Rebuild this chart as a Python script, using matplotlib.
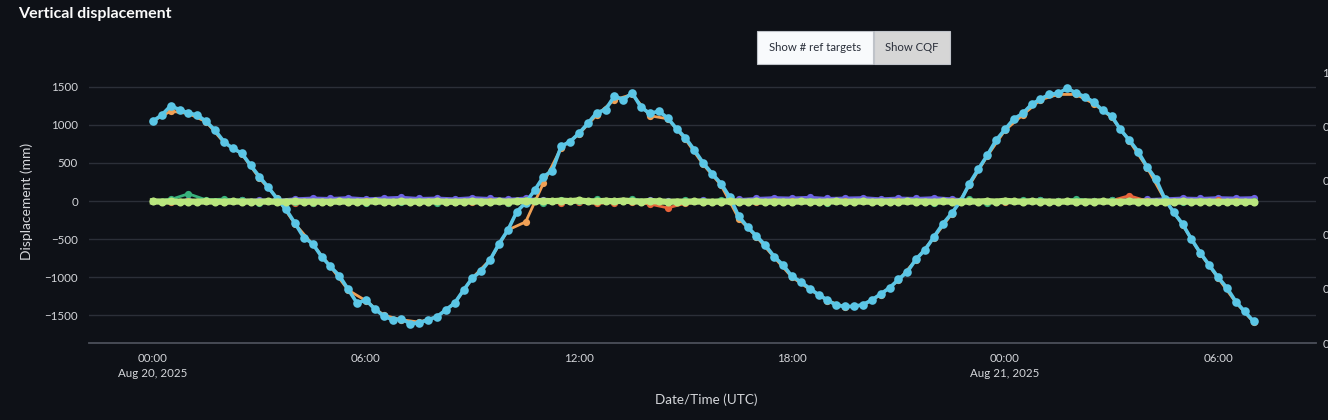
import numpy as np
import pandas as pd
import matplotlib
matplotlib.use('Agg')
import matplotlib.pyplot as plt
from matplotlib.patches import Rectangle

plt.rcParams['font.family'] = ['Lato', 'DejaVu Sans']

BG = '#0e1117'
TXT = '#d4d6da'

# sampling grids (15 min for the main target and the top series, 30 min for the rest)
start = pd.Timestamp('2025-08-20 00:00')
t_quarter = pd.date_range(start, periods=125, freq='15min')
t_half = pd.date_range(start, periods=63, freq='30min')

# displacement of the moving target, mm (15 min)
cyan_vals = [
    1050, 1130, 1250, 1200, 1155, 1130, 1045, 930, 780, 690,
    630, 470, 320, 180, 30, -110, -290, -480, -560, -730,
    -860, -980, -1160, -1340, -1300, -1420, -1510, -1560, -1550, -1610,
    -1600, -1560, -1520, -1430, -1340, -1170, -1010, -920, -770, -560,
    -380, -140, -20, 140, 320, 400, 720, 780, 890, 1020,
    1160, 1200, 1380, 1330, 1420, 1230, 1150, 1180, 1090, 950,
    830, 670, 500, 360, 230, 50, -200, -340, -460, -580,
    -730, -840, -990, -1060, -1150, -1230, -1300, -1370, -1385, -1385,
    -1360, -1300, -1220, -1140, -1030, -930, -760, -640, -470, -300,
    -160, 0, 230, 420, 600, 800, 940, 1080, 1150, 1270,
    1340, 1400, 1415, 1480, 1420, 1370, 1300, 1190, 1120, 940,
    800, 650, 450, 290, 30, -150, -300, -500, -680, -840,
    -1000, -1140, -1320, -1450, -1580,
]

# second solution of the same target, mostly hidden under cyan (30 min)
orange_vals = [
    1050, 1180, 1150, 1040, 770, 620, 300, 40, -300, -570,
    -860, -1170, -1310, -1500, -1560, -1590, -1520, -1340, -1010, -770,
    -380, -274, 235, 700, 880, 1130, 1330, 1400, 1120, 1080,
    810, 480, 210, -230, -470, -740, -1000, -1160, -1310, -1390,
    -1370, -1230, -1040, -770, -480, -170, 210, 590, 930, 1130,
    1330, 1400, 1400, 1280, 1100, 790, 440, 20, -310, -690,
    -1010, -1330, -1590,
]

# reference targets near zero (30 min)
purple_vals = [
    5, 0, 10, 5, 0, 8, 15, 10,
    30, 40, 35, 45, 30, 40, 50, 35, 40, 30, 45, 35,
    25, 40, 10, 0, 5, 10, -5, 0, 10, 5, 0, 10, 5, 20,
    35, 45, 40, 50, 35, 40, 45, 30, 40, 35, 45, 30,
    10, 5, 0, -5, 10, 0, 5, -5, 10, 15, 20, 30,
    40, 35, 45, 40, 45,
]
red_vals = [
    0, -10, 5, -5, -10, 0, -15, -5,
    -20, -30, -10, -15, -5, -10, 0, -10, -5, -15, -10, 0,
    -20, 10, -15, -25, -10, -30, -20, -15, -40, -90, -30, -15, -10, -5,
    -10, -5, 0, -10, -15, -5, 0, -10, -5, 5, -10, 0,
    -5, 0, -10, 5, 0, -5, 10, 0, 5, 70, 0, -10,
    -5, 0, 10, -5, 0,
]
green_vals = [
    5, 20, 95, 15, 25, 10, -20, -15,
    -10, -20, -15, -5, -25, -10, -15, -5, -20, -10, -5, -15,
    -25, 15, -20, 10, 0, 20, 5, 25, 0, -10, 10, -5, 15, 0,
    -5, -15, -10, -5, -20, -10, -5, -15, -10, -5, -20, -10,
    20, -20, 5, 10, 15, 0, 25, 5, 10, -5, -10, 5,
    -10, -5, -15, -10, -5,
]
# top series (15 min)
lime_vals = [
    -5, -8, -6, -10, -7, -9, -5, -8, -10, -6,
    -8, -7, -9, -6, -10, -8, -5, -9, -7, -8,
    -10, -6, -8, -9, -7, -5, -8, -10, -6, -9,
    -8, -7, -6, -9, -10, -8, -5, -7, -9, -6,
    -8, -4, 0, -5, 2, -3, 5, -2, 8, -4,
    -6, 3, -5, 6, -3, -8, 0, -6, -10, -7,
    -9, -6, -8, -10, -7, -5, -9, -8, -6, -10,
    -7, -8, -9, -6, -8, -10, -7, -5, -9, -8,
    -6, -10, -7, -8, -9, -6, -8, -7, -10, -5,
    -8, -9, -6, -7, -2, -8, 3, -6, -9, -4,
    -7, -8, -10, -6, -9, -7, -8, -5, -9, -10,
    -6, -8, -7, -9, -10, -8, -6, -9, -7, -8,
    -9, -10, -8, -9, -10,
]

right_ticks = [0, 0.2, 0.4, 0.6, 0.8, 1]
x_ticks = pd.date_range(start, periods=6, freq='6h')

fig = plt.figure(figsize=(13.28, 4.2), dpi=100, facecolor=BG)
ax = fig.add_axes([89 / 1328, 1 - 343 / 420, 1227 / 1328, 281 / 420])
ax.set_facecolor(BG)

# secondary axis, its labels run off the right edge like in the dashboard
ax2 = ax.twinx()
ax2.set_ylim(0, 1.04)
ax2.set_yticks(right_ticks)
ax2.set_yticklabels([f'{v:g}' for v in right_ticks])
ax2.tick_params(axis='y', length=0, pad=4.5, labelsize=8.3, colors=TXT)
for s in ax2.spines.values():
    s.set_visible(False)

# noise-level series first, then the big tidal one, lime on top
style_small = dict(marker='o', ms=5.2, lw=2, mew=0)
ax.plot(t_half, purple_vals, color='#6c62e2', zorder=3, **style_small)
ax.plot(t_half, red_vals, color='#e8643a', zorder=3, **style_small)
ax.plot(t_half, green_vals, color='#38b27c', zorder=3, **style_small)
ax.plot(t_half, orange_vals, color='#f0a055', zorder=4, **style_small)
ax.plot(t_quarter, cyan_vals, color='#5bc6e6', marker='o', ms=6.2, lw=2.6, mew=0, zorder=5)
ax.plot(t_quarter, lime_vals, color='#b9e67e', marker='o', ms=5.8, lw=4.5, mew=0, zorder=6)

ax.set_ylim(-1865, 1826)
ax.set_xlim(start - pd.Timedelta(hours=1.8), start + pd.Timedelta(hours=32.76))
ax.set_yticks([-1500, -1000, -500, 0, 500, 1000, 1500])
ax.yaxis.grid(True, color='#2b2f38', lw=1)
ax.set_axisbelow(True)

ax.set_xticks(x_ticks)
ax.set_xticklabels([
    d.strftime('%H:%M') + (d.strftime('\n%b %d, %Y').replace(' 0', ' ') if d.hour == 0 else '')
    for d in x_ticks
], linespacing=1.5)
ax.tick_params(axis='x', length=0, pad=7, labelsize=8.3, colors=TXT)
ax.tick_params(axis='y', length=0, pad=8, labelsize=8.3, colors=TXT)

for name, s in ax.spines.items():
    if name == 'bottom':
        s.set_color('#4c505a')
        s.set_linewidth(1.3)
    else:
        s.set_visible(False)

fig.text(27 / 1328, 1 - 201 / 420, 'Displacement (mm)', rotation=90,
         ha='center', va='center', color=TXT, fontsize=10)
fig.text(706 / 1328, 1 - 400 / 420, 'Date/Time (UTC)',
         ha='center', va='center', color=TXT, fontsize=9.7)
fig.text(18 / 1328, 1 - 14 / 420, 'Vertical displacement', ha='left', va='center',
         color='#fafafa', fontsize=11.5, fontweight='bold')

# update-menu buttons
buttons = [('Show # ref targets', 757, 116, '#f8fafc'), ('Show CQF', 874, 76, '#d6d6d6')]
for label, x0, w, fc in buttons:
    fig.patches.append(Rectangle((x0 / 1328, 1 - 64 / 420), w / 1328, 33 / 420,
                                 transform=fig.transFigure, facecolor=fc,
                                 edgecolor='#bfc3c9', lw=0.8))
    fig.text((x0 + w / 2) / 1328, 1 - 47.5 / 420, label, ha='center', va='center',
             color='#2a2f3a', fontsize=8.2)

fig.savefig('out.png', dpi=100, facecolor=BG)
